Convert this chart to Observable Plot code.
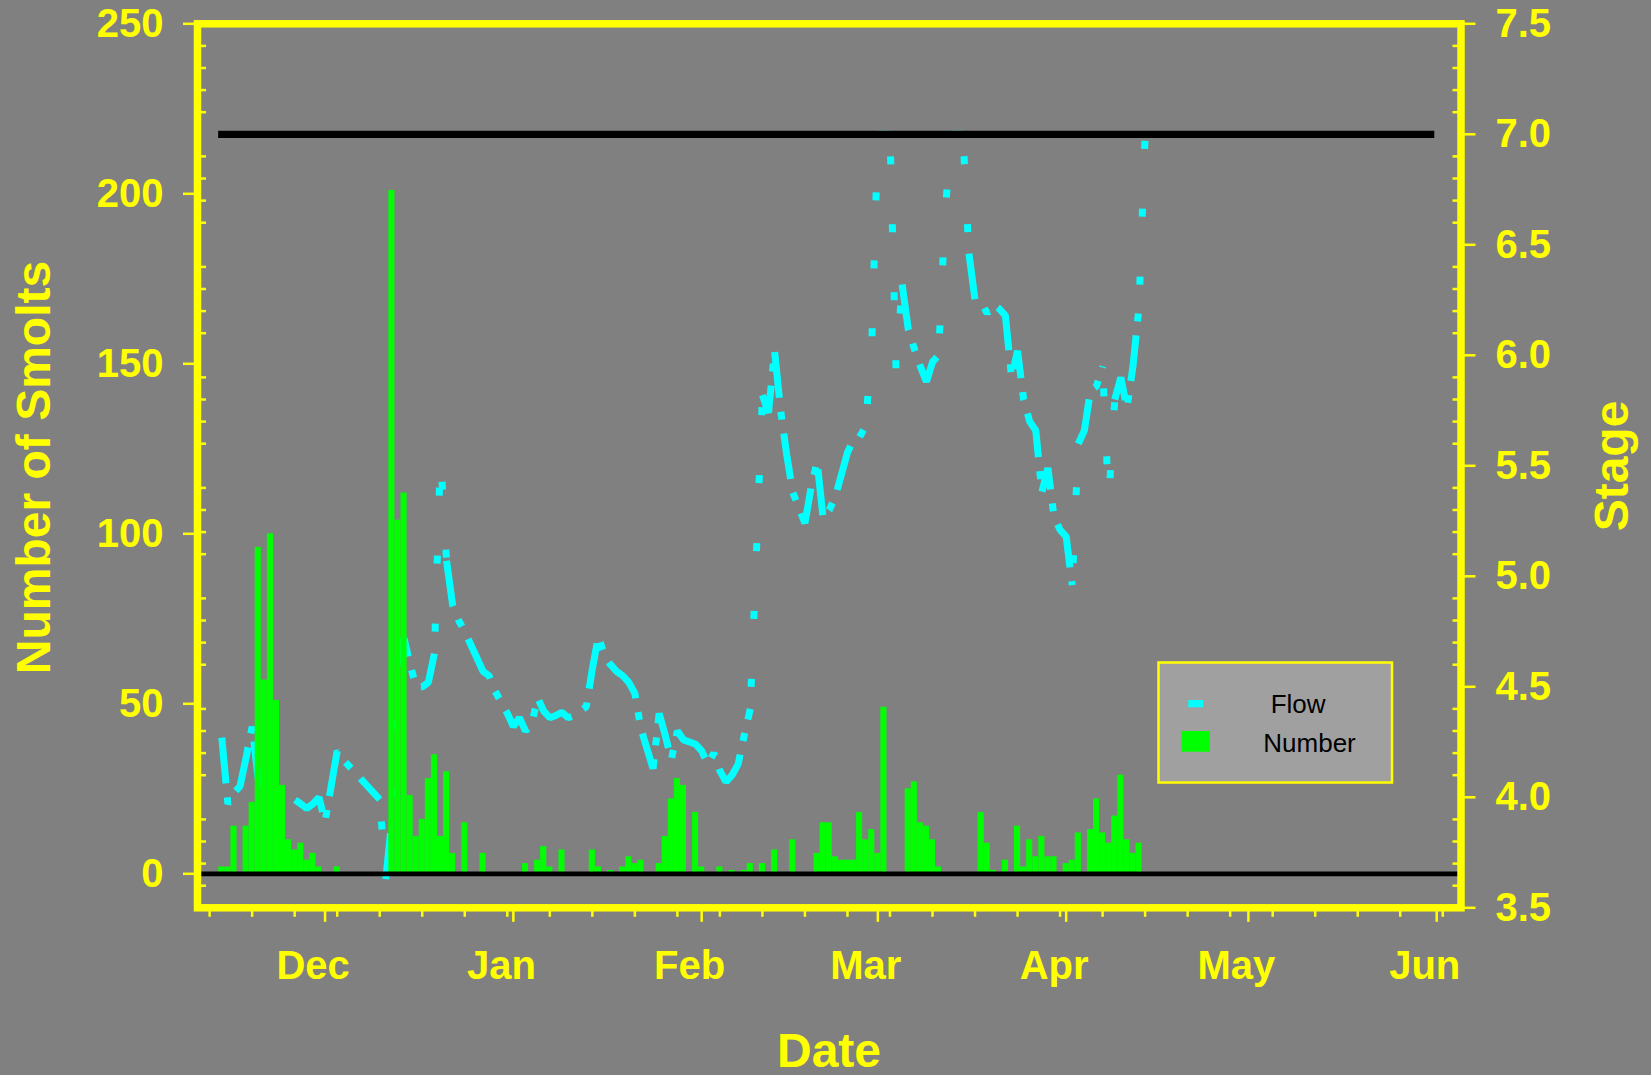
<!DOCTYPE html>
<html>
<head>
<meta charset="utf-8">
<script src="https://cdn.jsdelivr.net/npm/d3@7"></script>
<script src="https://cdn.jsdelivr.net/npm/@observablehq/plot@0.6"></script>
<style>
  html, body { margin: 0; padding: 0; background: #808080; overflow: hidden; }
  #chart svg { display: block; }
</style>
</head>
<body>
<div id="chart"></div>
<script>
// ---------------- data ----------------
// daily smolt counts, first value = 14 Nov 2003
const countStart = "2003-11-14";
const smoltCounts = [
  2, 2, 14, 0, 14, 21, 96, 57, 100, 51, 26, 10, 7, 9, 4, 6, 2,          // 14 Nov - 30 Nov
  0, 0, 2, 0, 0, 0, 0, 0, 0, 0, 0, 201, 104, 112, 23, 11, 16, 28, 35,  // 1 Dec - 19 Dec
  11, 30, 6, 0, 15, 0, 0, 6, 0, 0, 0, 0, 0, 0,                          // 20 Dec - 2 Jan
  3, 0, 4, 8, 2, 0, 7, 0, 0, 0, 0, 7, 2, 0, 1, 0, 2, 5, 3, 4, 0, 0,     // 3 Jan - 24 Jan
  3, 11, 22, 28, 26, 0, 18, 2, 0, 0, 2, 0, 1, 0, 1, 3, 0, 3, 0, 7,      // 25 Jan - 13 Feb
  0, 0, 10, 0, 0, 0, 6, 15, 15, 5, 4, 4, 4, 18, 10, 13, 6, 49,          // 14 Feb - 2 Mar
  0, 0, 0, 25, 27, 15, 14, 10, 2, 0, 0, 0, 0, 0, 0, 18, 9, 1, 0, 4,     // 3 Mar - 22 Mar
  0, 14, 2, 10, 5, 11, 5, 5, 0, 3, 4, 12, 0, 13, 22, 12, 9, 17, 29,     // 23 Mar - 10 Apr
  10, 6, 9                                                               // 11 Apr - 13 Apr
];

// daily stage ("Flow"), first value = 14 Nov 2003 (values at the 7.0 ceiling shown as 7.0)
const flowStart = "2003-11-14";
const flowStage = [
  4.27, 3.97, 4.02, 4.05, 4.18, 4.32, 4.08, 4.05, 4.03, 4.01, 4.00, 3.99, 3.99, 3.97, 3.95, 3.97, 4.00,
  3.89, 4.05, 4.21, 4.17, 4.14, 4.11, 4.08, 4.05, 4.02, 3.99, 3.63, 3.90, 4.60, 4.72, 4.60, 4.50, 4.50,
  4.52, 4.65, 5.55, 5.07, 4.87, 4.80, 4.75, 4.69, 4.63, 4.57, 4.55, 4.48, 4.43, 4.38, 4.32,
  4.36, 4.30, 4.33, 4.45, 4.39, 4.36, 4.37, 4.385, 4.36, 4.37, 4.39, 4.41, 4.58, 4.73, 4.64, 4.60,
  4.57, 4.55, 4.52, 4.47, 4.31, 4.22, 4.13, 4.38, 4.28, 4.17, 4.30, 4.26, 4.25, 4.24, 4.21, 4.15,
  4.20, 4.12, 4.07, 4.10, 4.15, 4.28, 4.40, 5.10, 5.82, 5.74, 6.02, 5.75, 5.55, 5.38, 5.31, 5.24,
  5.40, 5.52, 5.26, 5.30, 5.36, 5.46, 5.56, 5.62, 5.63, 5.68, 6.05, 7.0, 7.0, 7.0, 5.93, 6.32,
  6.12, 6.03, 5.95, 5.88, 5.97, 6.00, 6.60, 7.0, 7.0, 7.0, 6.46, 6.25, 6.24, 6.19, 6.23, 6.21,
  6.18, 5.90, 6.02, 5.80, 5.70, 5.66, 5.38, 5.49, 5.27, 5.21, 5.18, 4.96, 5.60, 5.66, 5.84, 5.86,
  5.95, 5.34, 5.80, 5.90, 5.76, 5.95, 6.22, 7.0
];

// black reference line on the Stage axis
const refLineDates = ["2003-11-14", "2004-05-31"];
const refLineStage = 7.0;

// axes
const xDomainDates = ["2003-11-10", "2004-06-05"];
const monthTickDates = ["2003-12-01", "2004-01-01", "2004-02-01", "2004-03-01", "2004-04-01", "2004-05-01", "2004-06-01"];
const monthTickLabels = ["Dec", "Jan", "Feb", "Mar", "Apr", "May", "Jun"];
const countDomain = [-10, 250];
const countTicks = [0, 50, 100, 150, 200, 250];
const stageDomain = [3.5, 7.5];
const stageTicks = [3.5, 4.0, 4.5, 5.0, 5.5, 6.0, 6.5, 7.0, 7.5];

// ---------------- build ----------------
const parse = d3.utcParse("%Y-%m-%d");
const DAY = 864e5;
const bars = smoltCounts.map((c, i) => ({date: d3.utcDay.offset(parse(countStart), i), count: c}));
const flow = flowStage.map((s, i) => ({date: d3.utcDay.offset(parse(flowStart), i), stage: s}));
const refLine = refLineDates.map(d => ({date: parse(d), stage: refLineStage}));

const k = (countDomain[1] - countDomain[0]) / (stageDomain[1] - stageDomain[0]);
const toCount = s => countDomain[0] + (s - stageDomain[0]) * k;
const toStage = c => stageDomain[0] + (c - countDomain[0]) / k;

// the original renderer shows steep stretches of the dash-dot line only as sparse dots:
// split the flow polyline into runs of gentle and steep segments, styled separately
const steepStep = 0.3;
const gentlePts = [], steepPts = [];
{
  let run = -1, prevSteep = null;
  for (let i = 0; i < flow.length - 1; i++) {
    const steep = Math.abs(flow[i + 1].stage - flow[i].stage) >= steepStep;
    const arr = steep ? steepPts : gentlePts;
    if (steep !== prevSteep) { run++; arr.push({...flow[i], run}); }
    arr.push({...flow[i + 1], run});
    prevSteep = steep;
  }
}

const stageMinor = d3.range(36, 75).map(v => v / 10).filter(v => Math.abs(v * 2 - Math.round(v * 2)) > 1e-6);
const monthDates = monthTickDates.map(parse);
const monthLabel = new Map(monthDates.map((d, i) => [+d, monthTickLabels[i]]));
const weekTicks = d3.utcWednesday.range(parse(xDomainDates[0]), parse(xDomainDates[1]));

const YEL = "#ffff00";
const CYAN = "#00ffff";
const FONT = "'Liberation Sans', Arial, Helvetica, sans-serif";

const W = 1651, H = 1075;
const chart = Plot.plot({
  width: W,
  height: H,
  marginLeft: 197,
  marginRight: 190.5,
  marginTop: 23.3,
  marginBottom: 167.7,
  style: {background: "#808080", fontFamily: FONT, overflow: "visible"},
  x: {type: "utc", domain: xDomainDates.map(parse)},
  y: {domain: countDomain},
  marks: [
    Plot.line(gentlePts, {
      x: "date", y: d => toCount(d.stage), z: "run",
      stroke: CYAN, strokeWidth: 7,
      strokeDasharray: "46,14,8,14", strokeLinecap: "butt", strokeLinejoin: "miter"
    }),
    Plot.line(steepPts, {
      x: "date", y: d => toCount(d.stage), z: "run",
      stroke: CYAN, strokeWidth: 7,
      strokeDasharray: "8,60", strokeDashoffset: -22, strokeLinecap: "butt", strokeLinejoin: "miter"
    }),
    Plot.rect(bars, {
      x1: d => new Date(+d.date - DAY / 2), x2: d => new Date(+d.date + DAY / 2),
      y1: 0, y2: "count", fill: "#00ff00"
    }),
    Plot.ruleY([0], {stroke: "#000000", strokeWidth: 4.7}),
    Plot.line(refLine, {x: "date", y: d => toCount(d.stage), stroke: "#000000", strokeWidth: 7.3, strokeLinecap: "square"}),
    Plot.frame({stroke: YEL, strokeWidth: 7.5}),
    // left axis: counts
    Plot.axisY(countTicks, {anchor: "left", tickSize: 14, tickPadding: 20, stroke: YEL, fill: YEL,
      strokeWidth: 2.5, fontSize: 40, fontWeight: "bold", label: null, tickFormat: d => String(d)}),
    Plot.axisY(stageMinor.map(toCount), {anchor: "left", tickSize: 9, dx: 9, stroke: YEL, fill: null,
      strokeWidth: 2.5, label: null}),
    // right axis: stage
    Plot.axisY(stageTicks.map(toCount), {anchor: "right", tickSize: 14, tickPadding: 20.5, stroke: YEL, fill: YEL,
      strokeWidth: 2.5, fontSize: 40, fontWeight: "bold", label: null, tickFormat: c => toStage(c).toFixed(1)}),
    Plot.axisY(stageMinor.map(toCount), {anchor: "right", tickSize: 9, dx: -9, stroke: YEL, fill: null,
      strokeWidth: 2.5, label: null}),
    // bottom axis
    Plot.axisX(weekTicks, {anchor: "bottom", tickSize: 9.5, stroke: YEL, fill: null, strokeWidth: 2.5, label: null}),
    Plot.axisX(monthDates, {anchor: "bottom", tickSize: 14.5, stroke: YEL, fill: null, strokeWidth: 2.5, label: null}),
    Plot.axisX(monthDates, {anchor: "bottom", tickSize: 0, tickPadding: 43, dx: -12, fill: YEL,
      fontSize: 40, fontWeight: "bold", label: null, tickFormat: d => monthLabel.get(+d)})
  ]
});

document.getElementById("chart").appendChild(chart);

// axis titles and legend
const svg = d3.select(chart);
const titles = svg.append("g").attr("fill", YEL).attr("font-family", FONT).attr("font-weight", "bold")
  .attr("font-size", 48).attr("text-anchor", "middle");
titles.append("text").attr("transform", "translate(50.2,467.5) rotate(-90)").text("Number of Smolts");
titles.append("text").attr("transform", "translate(1627.5,466) rotate(-90)").text("Stage");
titles.append("text").attr("x", 829).attr("y", 1066.7).text("Date");

const lg = svg.append("g").attr("font-family", FONT).attr("font-size", 26).attr("text-anchor", "start");
lg.append("rect").attr("x", 1158.5).attr("y", 662.5).attr("width", 233.5).attr("height", 120)
  .attr("fill", "#a0a0a0").attr("stroke", YEL).attr("stroke-width", 2.5);
lg.append("rect").attr("x", 1188.3).attr("y", 700).attr("width", 15).attr("height", 7.3).attr("fill", CYAN);
lg.append("rect").attr("x", 1181.7).attr("y", 731).attr("width", 28.3).attr("height", 20.7).attr("fill", "#00ff00");
lg.append("text").attr("x", 1270.7).attr("y", 713.3).attr("fill", "#000").text("Flow");
lg.append("text").attr("x", 1263.3).attr("y", 752).attr("fill", "#000").text("Number");
</script>
</body>
</html>
